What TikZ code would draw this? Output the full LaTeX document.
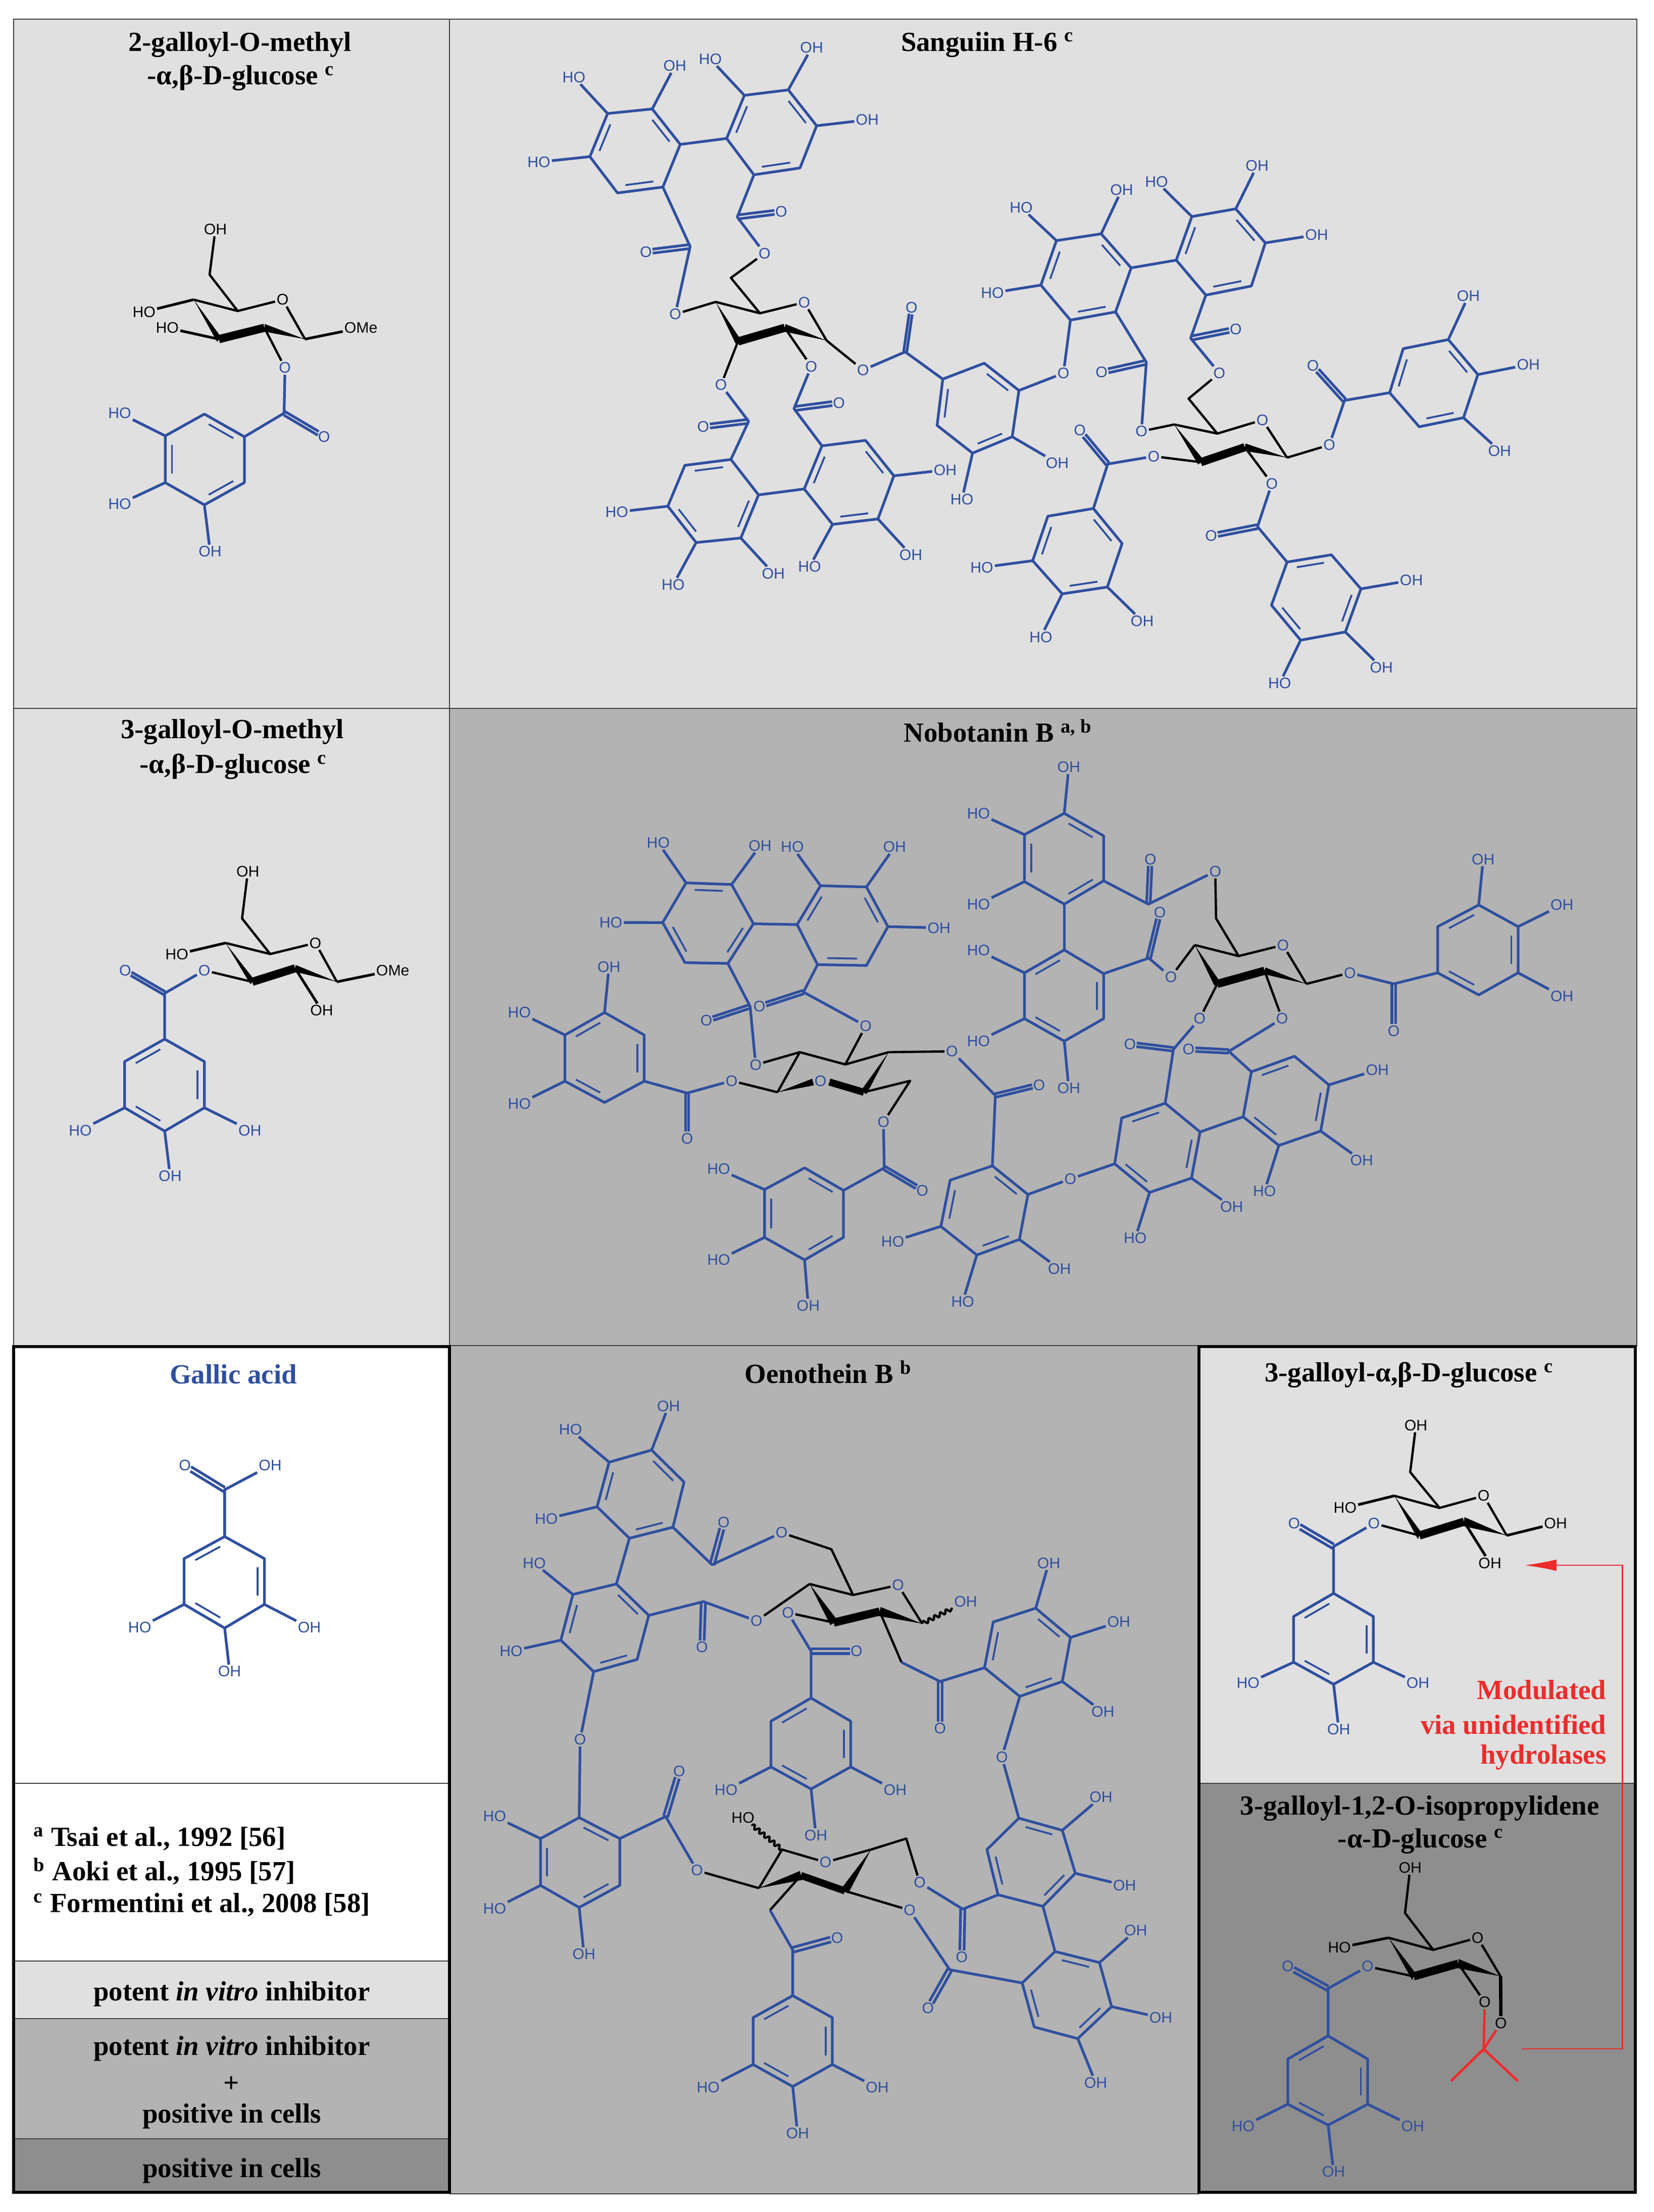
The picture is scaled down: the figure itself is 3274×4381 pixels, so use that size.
\documentclass[tikz,border=0pt]{standalone}
\usepackage{fontspec}
\setmainfont{Liberation Serif}
\setsansfont{Liberation Sans}
\usetikzlibrary{arrows.meta,calc,decorations.pathmorphing}
\definecolor{blu}{HTML}{2F4F9F}
\definecolor{redd}{HTML}{EE2B2B}
\definecolor{pale}{HTML}{E0E0E0}
\definecolor{midg}{HTML}{B3B3B3}
\definecolor{darkg}{HTML}{8E8E8E}
\tikzset{
  bond/.style={draw=blu,line width=1.5pt,line join=round},
  inbond/.style={draw=blu,line width=1.05pt},
  sbond/.style={draw=black,line width=1.3pt,line join=round},
  atom/.style={font=\sffamily\fontsize{8.6}{8.6}\selectfont,text=blu,inner sep=.7pt},
  ttl/.style={font=\bfseries\fontsize{15.6}{15.6}\selectfont,inner sep=0pt,yshift=-1.5pt},
  panel/.style={draw=black!75,line width=.5pt},
  frame/.style={draw=black,line width=1.7pt},
  crop/.style n args={4}{shift={(#1,#2)},xscale=#3/1568,yscale=#4/1568},
  wavy/.style={sbond,decorate,decoration={snake,amplitude=1.1pt,segment length=3.6pt}}
}
% ring: p1-p2, p3-p4, p5-p6 carry the inner line
\newcommand{\mring}[7]{%
  \coordinate (#11) at (#2);\coordinate (#12) at (#3);\coordinate (#13) at (#4);
  \coordinate (#14) at (#5);\coordinate (#15) at (#6);\coordinate (#16) at (#7);
  \coordinate (#1c) at ($(#11)!.5!(#14)$);
  \draw[bond] (#11)--(#12)--(#13)--(#14)--(#15)--(#16)--cycle;
  \foreach \p/\q in {1/2,3/4,5/6}
    \draw[inbond] ($(#1\p)!.13!(#1\q)!.17!(#1c)$) -- ($(#1\q)!.13!(#1\p)!.17!(#1c)$);
}
\newcommand{\msub}[4][blu]{%
  \node[atom,text=#1] (#2x) at (#3) {#4};
  \draw[bond,draw=#1] (#2) -- (#2x);
}
% black bond to a blue label
\newcommand{\mlink}[3]{%
  \node[atom] (#1x) at (#2) {#3};
  \draw[sbond] (#1) -- (#1x);
}
\newcommand{\mester}[3]{%
  \coordinate (#1) at (#2);
  \node[atom] (#1o) at (#3) {O};
  \draw[bond,shorten >=3.8pt] ($(#1)!1.25pt!90:(#1o)$) -- ($(#1o)!1.25pt!-90:(#1)$);
  \draw[bond,shorten >=3.8pt] ($(#1)!1.25pt!-90:(#1o)$) -- ($(#1o)!1.25pt!90:(#1)$);
}
\newcommand{\mwedge}[2]{%
  \fill[black] (#1) -- ($(#2)!2.4pt!90:(#1)$) -- ($(#2)!2.4pt!-90:(#1)$) -- cycle;
}
% args: name, back left, back mid, ring O, right, front right, front left
\newcommand{\mchair}[8][blu]{%
  \coordinate (#2a) at (#3);\coordinate (#2b) at (#4);
  \node[atom,text=#1] (#2o) at (#5) {O};
  \coordinate (#2r) at (#6);\coordinate (#2e) at (#7);\coordinate (#2f) at (#8);
  \draw[sbond] (#2a) -- (#2b) -- (#2o) -- (#2r);
  \mwedge{#2a}{#2f}\mwedge{#2r}{#2e}
  \draw[black,line width=4.6pt] (#2f) -- (#2e);
}
\begin{document}
\begin{tikzpicture}[x=0.01cm,y=-0.01cm]
  \useasboundingbox (0,0) rectangle (3274,4381);
  % panels
  \fill[pale] (27,38) rectangle (890,2665);
  \fill[pale] (890,38) rectangle (3241,1403);
  \fill[midg] (890,1403) rectangle (3241,2665);
  \fill[midg] (890,2665) rectangle (2374,4345);
  \fill[pale] (27,3884) rectangle (890,3998);
  \fill[white] (27,2665) rectangle (890,3884);
  \fill[midg] (27,3998) rectangle (890,4236);
  \fill[darkg] (27,4236) rectangle (890,4342);
  \fill[pale] (2374,2665) rectangle (3238,3532);
  \fill[darkg] (2374,3532) rectangle (3238,4342);
  \draw[panel] (27,38) rectangle (3241,2665);
  \draw[panel] (890,38) -- (890,2665);
  \draw[panel] (27,1403) -- (3241,1403);
  \draw[panel] (890,4345) -- (2374,4345);
  \draw[panel,line width=.8pt] (27,3532) -- (890,3532);
  \draw[panel] (27,3884) -- (890,3884);
  \draw[panel] (27,3998) -- (890,3998);
  \draw[panel] (27,4236) -- (890,4236);
  \draw[panel] (2374,3532) -- (3238,3532);
  \draw[frame] (27,2667) rectangle (890,4342);
  \draw[frame] (2374,2667) rectangle (3238,4342);

  % titles
  \node[ttl] (t2a) at (475,83) {2-galloyl-O-methyl};
  \node[ttl] (t2b) at (477,149) {-α,β-D-glucose \textsuperscript{c}};
  \node[ttl] (tsan) at (1955,83) {Sanguiin H-6 \textsuperscript{c}};
  \node[ttl] (t3a) at (460,1444) {3-galloyl-O-methyl};
  \node[ttl] (t3b) at (462,1513) {-α,β-D-glucose \textsuperscript{c}};
  \node[ttl] (tnob) at (1976,1442) {Nobotanin B \textsuperscript{a, b}};
  \node[ttl,text=blu] (tgal) at (462,2716) {Gallic acid};
  \node[ttl] (toen) at (1640,2712) {Oenothein B \textsuperscript{b}};
  \node[ttl] (t3g) at (2790,2718) {3-galloyl-α,β-D-glucose \textsuperscript{c}};
  \node[ttl] (t3i) at (2811,3576) {3-galloyl-1,2-O-isopropylidene};
  \node[ttl] (t3j) at (2813,3641) {-α-D-glucose \textsuperscript{c}};

  % legend
  \node[ttl,anchor=west] (ra) at (66,3636) {\textsuperscript{a} Tsai et al., 1992 [56]};
  \node[ttl,anchor=west] (rb) at (66,3701) {\textsuperscript{b} Aoki et al., 1995 [57]};
  \node[ttl,anchor=west] (rc) at (66,3767) {\textsuperscript{c} Formentini et al., 2008 [58]};
  \node[ttl] (la) at (459,3944) {potent \textit{in vitro} inhibitor};
  \node[ttl] (lb) at (459,4052) {potent \textit{in vitro} inhibitor};
  \node[ttl] (lc) at (458,4123) {+};
  \node[ttl] (ld) at (459,4186) {positive in cells};
  \node[ttl] (le) at (459,4294) {positive in cells};

  % 2-galloyl
  \begin{scope}[crop={0}{0}{900}{1410}]
    \mchair[black]{a}{668,660}{820,685}{975,660}{1052,747}{912,722}{755,747}
    \coordinate (am) at (723,605);
    \node[atom,text=black] (amh) at (743,505) {OH};
    \draw[sbond] (ab) -- (am) -- (amh);
    \msub[black]{aa}{497,687}{HO}
    \msub[black]{af}{577,722}{HO}
    \msub[black]{ar}{1245,722}{OMe}
    \mlink{ae}{983,810}{O}
    \mester{aC}{980,910}{1118,962}
    \mring{ag}{705,912}{843,962}{843,1063}{705,1112}{570,1063}{570,960}
    \draw[bond] (aex) -- (aC) -- (ag2);
    \msub{ag6}{413,910}{HO}
    \msub{ag5}{413,1110}{HO}
    \msub{ag4}{725,1215}{OH}
  \end{scope}

  % Sanguiin, left part
  \begin{scope}[crop={900}{0}{1100}{1410}]
    \mchair{sq}{737,665}{862,690}{987,666}{1050,750}{932,722}{800,752}
    \coordinate (sm) at (780,612);
    \node[atom] (so1) at (875,558) {O};
    \draw[sbond] (sqb) -- (sm) -- (so1);
    \mester{sCa}{798,478}{922,466}
    \mring{sa}{768,305}{818,210}{942,198}{1022,277}{975,370}{845,385}
    \msub{sa2}{722,130}{HO}
    \msub{sa3}{1008,105}{OH}
    \msub{sa4}{1165,264}{OH}
    \draw[bond] (so1) -- (sCa) -- (sa6);
    \mring{sb}{637,318}{558,240}{432,250}{382,345}{460,425}{588,412}
    \msub{sb2}{622,145}{OH}
    \msub{sb3}{337,170}{HO}
    \msub{sb4}{238,357}{HO}
    \draw[bond] (sb1) -- (sa1);
    \mester{sCb}{665,543}{540,555}
    \node[atom] (so2) at (623,692) {O};
    \draw[bond] (sb6) -- (sCb) -- (so2);
    \draw[sbond] (so2) -- (sqa);
    \mlink{sqf}{752,848}{O}
    \mester{sCd}{830,928}{702,940}
    \mring{sd}{780,1012}{650,1025}{602,1115}{682,1195}{808,1185}{858,1090}
    \draw[bond] (sqfx) -- (sCd) -- (sd1);
    \msub{sd3}{458,1128}{HO}
    \msub{sd4}{617,1288}{HO}
    \msub{sd5}{900,1263}{OH}
    \mlink{sqe}{1007,807}{O}
    \mester{sCe}{958,900}{1085,887}
    \mring{se}{1160,970}{1240,1048}{1195,1143}{1067,1155}{987,1077}{1037,982}
    \draw[bond] (sqex) -- (sCe) -- (se6);
    \draw[bond] (sd6) -- (se5);
    \msub{se2}{1385,1035}{OH}
    \msub{se3}{1288,1222}{OH}
    \msub{se4}{1002,1248}{HO}
    \mlink{sqr}{1153,815}{O}
    \mester{sCf}{1272,775}{1290,677}
    \mring{sf}{1378,835}{1362,937}{1462,998}{1574,962}{1593,860}{1495,800}
    \draw[bond] (sqrx) -- (sCf) -- (sf1);
    \msub{sf3}{1432,1100}{HO}
  \end{scope}

  % Sanguiin, right part
  \begin{scope}[crop={2000}{0}{1274}{1410}]
    \msub{sf4}{115,1020}{OH}
    \mring{sg}{295,590}{222,515}{113,530}{75,628}{147,705}{257,687}
    \msub{sg2}{272,418}{OH}
    \msub{sg3}{27,457}{HO}
    \msub{sg4}{-43,645}{HO}
    \node[atom] (so3) at (130,822) {O};
    \draw[bond] (sg5) -- (so3) -- (sf5);
    \mring{sh}{405,573}{443,477}{550,460}{622,535}{588,630}{477,650}
    \msub{sh2}{357,400}{HO}
    \msub{sh3}{602,365}{OH}
    \msub{sh4}{747,517}{OH}
    \draw[bond] (sh1) -- (sg1);
    \mchair{st}{400,935}{505,955}{615,925}{675,1008}{572,985}{465,1018}
    \mester{sCh}{440,745}{550,725}
    \node[atom] (so4) at (510,822) {O};
    \coordinate (sn) at (435,878);
    \draw[bond] (sh6) -- (sCh) -- (so4);
    \draw[sbond] (so4) -- (sn) -- (stb);
    \mester{sCg}{332,798}{223,820}
    \node[atom] (so5) at (320,950) {O};
    \draw[bond] (sg6) -- (sCg) -- (so5);
    \draw[sbond] (so5) -- (sta);
    \mlink{stf}{350,1005}{O}
    \mester{sCi}{238,1022}{170,948}
    \mring{si}{203,1120}{273,1197}{237,1293}{127,1308}{55,1235}{92,1137}
    \draw[bond] (stfx) -- (sCi) -- (si1);
    \msub{si3}{322,1368}{OH}
    \msub{si4}{75,1403}{HO}
    \msub{si5}{-69,1250}{HO}
    \mlink{ste}{638,1065}{O}
    \mester{sCj}{603,1160}{490,1180}
    \mring{sj}{675,1238}{783,1222}{855,1297}{817,1392}{708,1410}{637,1333}
    \draw[bond] (stex) -- (sCj) -- (sj1);
    \msub{sj3}{978,1278}{OH}
    \msub{sj4}{905,1470}{OH}
    \msub{sj5}{657,1505}{HO}
    \mlink{str}{778,980}{O}
    \mester{sCk}{815,882}{738,805}
    \mring{sk}{925,865}{958,768}{1068,748}{1140,825}{1105,920}{997,940}
    \draw[bond] (strx) -- (sCk) -- (sk1);
    \msub{sk3}{1117,652}{OH}
    \msub{sk4}{1263,803}{OH}
    \msub{sk5}{1193,993}{OH}
  \end{scope}

  % 3-galloyl-O-methyl
  \begin{scope}[crop={0}{1410}{900}{1270}]
    \mchair[black]{b}{778,565}{932,592}{1088,565}{1162,660}{1018,627}{870,660}
    \coordinate (bm) at (835,505);
    \node[atom,text=black] (bmh) at (855,390) {OH};
    \draw[sbond] (bb) -- (bm) -- (bmh);
    \msub[black]{ba}{610,593}{HO}
    \msub[black]{br}{1355,632}{OMe}
    \msub[black]{be}{1110,730}{OH}
    \mlink{bf}{705,632}{O}
    \mester{bC}{568,688}{432,632}
    \mring{bg}{568,800}{430,855}{430,968}{568,1025}{705,968}{705,855}
    \draw[bond] (bfx) -- (bC) -- (bg1);
    \msub{bg3}{277,1023}{HO}
    \msub{bg4}{587,1135}{OH}
    \msub{bg5}{862,1023}{OH}
  \end{scope}

  % Nobotanin, left part
  \begin{scope}[crop={900}{1410}{1150}{1270}]
    \coordinate (nqa) at (932,832);
    \coordinate (nqb) at (1055,862);
    \coordinate (nqc) at (1172,832);
    \coordinate (nqd) at (1105,930);
    \node[atom] (nqo) at (988,902) {O};
    \coordinate (nqf) at (872,930);
    \coordinate (nqg) at (968,905);
    \coordinate (nqh) at (1012,905);
    \draw[sbond] (nqf) -- (nqa) -- (nqb) -- (nqc);
    \mwedge{nqf}{nqg}\mwedge{nqc}{nqd}
    \draw[black,line width=4pt] (nqh) -- (nqd);
    \mring{na}{298,790}{405,735}{512,790}{512,903}{405,955}{298,903}
    \msub{na2}{417,623}{OH}
    \msub{na1}{175,735}{HO}
    \msub{na6}{175,958}{HO}
    \mester{nCa}{628,932}{628,1043}
    \node[atom] (no1) at (748,902) {O};
    \draw[bond] (na4) -- (nCa) -- (no1);
    \draw[sbond] (no1) -- (nqf);
    \mring{nb}{807,518}{738,615}{622,613}{562,515}{625,418}{748,422}
    \msub{nb4}{422,515}{HO}
    \msub{nb5}{550,320}{HO}
    \msub{nb6}{825,327}{OH}
    \mring{nd}{925,520}{988,425}{1112,428}{1170,525}{1112,620}{980,618}
    \msub{nd2}{912,330}{HO}
    \msub{nd3}{1188,330}{OH}
    \msub{nd4}{1308,528}{OH}
    \draw[bond] (nb1) -- (nd1);
    \mester{nCb}{798,720}{680,755}
    \node[atom] (no2) at (813,863) {O};
    \draw[bond] (nb2) -- (nCb) -- (no2);
    \draw[sbond] (no2) -- (nqa);
    \mester{nCd}{942,685}{823,720}
    \node[atom] (no3) at (1110,768) {O};
    \draw[bond] (nd6) -- (nCd) -- (no3);
    \draw[sbond] (no3) -- (nqb);
    \node[atom] (no4) at (1343,830) {O};
    \draw[sbond] (nqc) -- (no4);
    \coordinate (nm) at (1230,902);
    \node[atom] (no5) at (1158,1003) {O};
    \draw[sbond] (nqd) -- (nm) -- (no5);
    \mester{nCe}{1160,1115}{1263,1170}
    \mring{ne}{1050,1170}{945,1115}{837,1168}{837,1285}{945,1340}{1050,1285}
    \draw[bond] (no5) -- (nCe) -- (ne1);
    \msub{ne3}{713,1118}{HO}
    \msub{ne4}{713,1340}{HO}
    \msub{ne5}{955,1452}{OH}
    \mester{nCf}{1460,938}{1578,912}
    \mring{nf}{1452,1110}{1548,1180}{1525,1290}{1410,1328}{1313,1258}{1338,1145}
    \draw[bond] (no4) -- (nCf) -- (nf1);
    \msub{nf5}{1183,1295}{HO}
    \msub{nf4}{1372,1442}{HO}
    \msub{nf3}{1633,1362}{OH}
  \end{scope}

  % Nobotanin, right part
  \begin{scope}[crop={2000}{1410}{1274}{1270}]
    \mchair{nt}{450,570}{557,597}{665,570}{722,665}{620,633}{505,665}
    \mring{ng}{132,248}{228,303}{228,413}{132,470}{35,415}{35,300}
    \msub{ng1}{143,135}{OH}
    \msub{ng5}{-77,470}{HO}
    \msub{ng6}{-77,248}{HO}
    \mester{nCg}{337,470}{342,360}
    \node[atom] (no6) at (500,390) {O};
    \coordinate (nn) at (502,505);
    \draw[bond] (ng3) -- (nCg) -- (no6);
    \draw[sbond] (no6) -- (nn) -- (ntb);
    \mring{nh}{35,638}{132,582}{228,640}{228,750}{132,805}{35,750}
    \draw[bond] (ng4) -- (nh2);
    \msub{nh5}{143,920}{OH}
    \msub{nh6}{-77,805}{HO}
    \msub{nh1}{-77,583}{HO}
    \mester{nCh}{338,602}{365,490}
    \node[atom] (no7) at (392,648) {O};
    \draw[bond] (nh3) -- (nCh) -- (no7);
    \draw[sbond] (no7) -- (nta);
    \mlink{ntf}{462,750}{O}
    \mester{nCi}{398,825}{292,812}
    \mring{ni}{272,993}{378,957}{463,1027}{442,1140}{340,1175}{255,1105}
    \draw[bond] (ntfx) -- (nCi) -- (ni2);
    \msub{ni4}{540,1210}{OH}
    \msub{ni5}{305,1287}{HO}
    \mlink{nte}{663,750}{O}
    \mester{nCj}{533,830}{435,825}
    \mring{nj}{588,880}{693,842}{777,912}{757,1025}{655,1060}{568,990}
    \draw[bond] (ntex) -- (nCj) -- (nj1);
    \draw[bond] (ni3) -- (nj6);
    \msub{nj3}{895,875}{OH}
    \msub{nj4}{857,1097}{OH}
    \msub{nj5}{620,1172}{HO}
    \node[atom] (no8) at (147,1142) {O};
    \draw[bond] (ni6) -- (no8) -- (nf2);
    \mlink{ntr}{828,638}{O}
    \mester{nCk}{935,665}{935,780}
    \mring{nk}{1042,525}{1142,472}{1238,525}{1238,638}{1142,692}{1042,638}
    \draw[bond] (ntrx) -- (nCk) -- (nk6);
    \msub{nk2}{1153,360}{OH}
    \msub{nk3}{1345,472}{OH}
    \msub{nk4}{1345,695}{OH}
  \end{scope}

  % Oenothein
  \begin{scope}[crop={900}{2670}{1500}{1711}]
    \mchair{oq}{735,428}{825,448}{918,430}{968,500}{880,478}{785,498}
    \node[atom] (oqh) at (1058,460) {OH};
    \draw[wavy] (oqr) -- (oqh);
    \mring{oa}{408,185}{475,243}{452,325}{362,345}{295,288}{320,207}
    \msub{oa1}{443,105}{OH}
    \msub{oa6}{240,148}{HO}
    \msub{oa5}{190,310}{HO}
    \mester{oCa}{533,393}{557,316}
    \node[atom] (oo1) at (677,335) {O};
    \coordinate (om) at (780,365);
    \draw[bond] (oa3) -- (oCa) -- (oo1);
    \draw[sbond] (oo1) -- (om) -- (oqb);
    \mring{ob}{335,428}{402,485}{378,565}{288,587}{220,530}{245,447}
    \draw[bond] (oa4) -- (ob1);
    \msub{ob6}{165,390}{HO}
    \msub{ob5}{117,550}{HO}
    \mester{oCb}{515,460}{512,543}
    \node[atom] (oo2) at (625,495) {O};
    \draw[bond] (ob2) -- (oCb) -- (oo2);
    \draw[sbond] (oo2) -- (oqa);
    \mlink{oqf}{690,480}{O}
    \mester{oCd}{738,550}{832,550}
    \mring{od}{655,677}{738,635}{820,677}{820,760}{738,800}{655,760}
    \draw[bond] (oqfx) -- (oCd) -- (od2);
    \msub{od4}{912,802}{OH}
    \msub{od5}{748,884}{OH}
    \msub{od6}{562,802}{HO}
    \coordinate (on) at (925,570);
    \mester{oCe}{1005,605}{1005,690}
    \mring{oe}{1097,580}{1115,497}{1203,472}{1275,525}{1258,605}{1170,632}
    \draw[sbond] (oqe) -- (on);
    \draw[bond] (on) -- (oCe) -- (oe1);
    \msub{oe3}{1230,390}{OH}
    \msub{oe4}{1375,497}{OH}
    \msub{oe5}{1342,660}{OH}
    \node[atom] (oo3) at (1133,742) {O};
    \mring{of}{1168,853}{1258,875}{1285,953}{1218,1013}{1125,992}{1102,910}
    \draw[bond] (oe6) -- (oo3) -- (of1);
    \msub{of2}{1338,815}{OH}
    \msub{of3}{1387,975}{OH}
    \mring{og}{1243,1095}{1335,1115}{1360,1195}{1290,1253}{1200,1232}{1175,1152}
    \draw[bond] (of4) -- (og1);
    \msub{og2}{1410,1057}{OH}
    \msub{og3}{1462,1215}{OH}
    \msub{og4}{1327,1333}{OH}
    % lower sugar
    \coordinate (oua) at (678,910);
    \node[atom] (ouo) at (768,933) {O};
    \coordinate (oub) at (862,910);
    \coordinate (ouc) at (808,985);
    \coordinate (oud) at (717,957);
    \coordinate (oue) at (630,980);
    \draw[sbond] (oue) -- (oua) -- (ouo) -- (oub);
    \mwedge{oub}{ouc}\mwedge{oue}{oud}
    \draw[black,line width=4pt] (oud) -- (ouc);
    \node[atom,text=black] (ouh) at (597,852) {HO};
    \draw[wavy] (oua) -- (ouh);
    \mester{oCf}{1052,1018}{1050,1105}
    \node[atom] (oo4) at (963,970) {O};
    \coordinate (op) at (935,890);
    \draw[bond] (of5) -- (oCf) -- (oo4);
    \draw[sbond] (oo4) -- (op) -- (oub);
    \mester{oCg}{1025,1128}{980,1198}
    \node[atom] (oo5) at (942,1020) {O};
    \draw[bond] (og6) -- (oCg) -- (oo5);
    \draw[sbond] (oo5) -- (ouc);
    \node[atom] (oo6) at (502,948) {O};
    \mester{oCh}{437,850}{465,768}
    \mring{oh}{258,852}{342,890}{342,975}{258,1015}{178,975}{178,890}
    \draw[sbond] (oue) -- (oo6);
    \draw[bond] (oo6) -- (oCh) -- (oh2);
    \msub{oh6}{83,850}{HO}
    \msub{oh5}{83,1017}{HO}
    \msub{oh4}{268,1100}{OH}
    \node[atom] (oo7) at (260,710) {O};
    \draw[bond] (ob4) -- (oo7) -- (oh1);
    \coordinate (or) at (653,1020);
    \mester{oCi}{700,1092}{792,1070}
    \mring{oi}{618,1215}{700,1175}{782,1215}{782,1300}{700,1340}{618,1300}
    \draw[sbond] (oud) -- (or);
    \draw[bond] (or) -- (oCi) -- (oi2);
    \msub{oi4}{875,1342}{OH}
    \msub{oi5}{710,1425}{OH}
    \msub{oi6}{525,1342}{HO}
  \end{scope}

  % gallic acid
  \begin{scope}[crop={0}{2670}{900}{1711}]
    \mester{gC}{775,257}{638,213}
    \node[atom] (gh) at (932,213) {OH};
    \mring{g}{635,382}{775,342}{912,382}{912,465}{775,508}{635,465}
    \draw[bond] (gh) -- (gC) -- (g2);
    \msub{g6}{482,507}{HO}
    \msub{g5}{792,587}{OH}
    \msub{g4}{1067,507}{OH}
  \end{scope}

  % right column
  \begin{scope}[crop={2380}{2670}{894}{1711}]
    \mchair[black]{f}{668,268}{825,290}{978,268}{1058,340}{910,315}{755,340}
    \coordinate (fm) at (723,225);
    \node[atom,text=black] (fmh) at (743,140) {OH};
    \draw[sbond] (fb) -- (fm) -- (fmh);
    \msub[black]{fa}{497,290}{HO}
    \msub[black]{fr}{1228,318}{OH}
    \msub[black]{fe}{1000,390}{OH}
    \mlink{ff}{597,318}{O}
    \mester{fC}{457,360}{320,318}
    \mring{fg}{318,487}{457,445}{595,487}{595,570}{457,610}{318,570}
    \draw[bond] (ffx) -- (fC) -- (fg2);
    \msub{fg6}{160,608}{HO}
    \msub{fg5}{475,692}{OH}
    \msub{fg4}{750,608}{OH}

    \mchair[black]{h}{648,1070}{803,1092}{957,1070}{1037,1140}{890,1117}{735,1140}
    \coordinate (hm) at (705,1025);
    \node[atom,text=black] (hmh) at (723,943) {OH};
    \draw[sbond] (hb) -- (hm) -- (hmh);
    \msub[black]{ha}{477,1088}{HO}
    \mlink{hf}{575,1122}{O}
    \mester{hC}{438,1162}{298,1122}
    \mring{hg}{298,1290}{438,1248}{575,1290}{575,1372}{438,1410}{298,1372}
    \draw[bond] (hfx) -- (hC) -- (hg2);
    \msub{hg6}{143,1412}{HO}
    \msub{hg5}{457,1495}{OH}
    \msub{hg4}{732,1412}{OH}
    % isopropylidene
    \node[atom,text=black] (ho1) at (982,1187) {O};
    \node[atom,text=black] (ho2) at (1038,1225) {O};
    \draw[sbond] (he) -- (ho1);
    \draw[sbond,line width=1.9pt] (hr) -- (ho2);
    \coordinate (ip) at (978,1272);
    \coordinate (ipa) at (865,1330);
    \coordinate (ipb) at (1097,1330);
    \draw[redd,line width=1.4pt] (ho1) -- (ip) -- (ho2);
    \draw[redd,line width=1.4pt] (ipa) -- (ip) -- (ipb);
    % arrow
    \coordinate (ara) at (1110,1272);
    \coordinate (arb) at (1460,1272);
    \coordinate (arc) at (1460,394);
    \coordinate (ard) at (1120,394);
    \draw[redd,line width=.6pt,-{Latex[length=18pt,width=6.5pt]}] (ara) -- (arb) -- (arc) -- (ard);
    \node[ttl,text=redd,anchor=east] (m1) at (1405,615) {Modulated};
    \node[ttl,text=redd,anchor=east] (m2) at (1405,678) {via unidentified};
    \node[ttl,text=redd,anchor=east] (m3) at (1405,738) {hydrolases};
  \end{scope}
\end{tikzpicture}
\end{document}
